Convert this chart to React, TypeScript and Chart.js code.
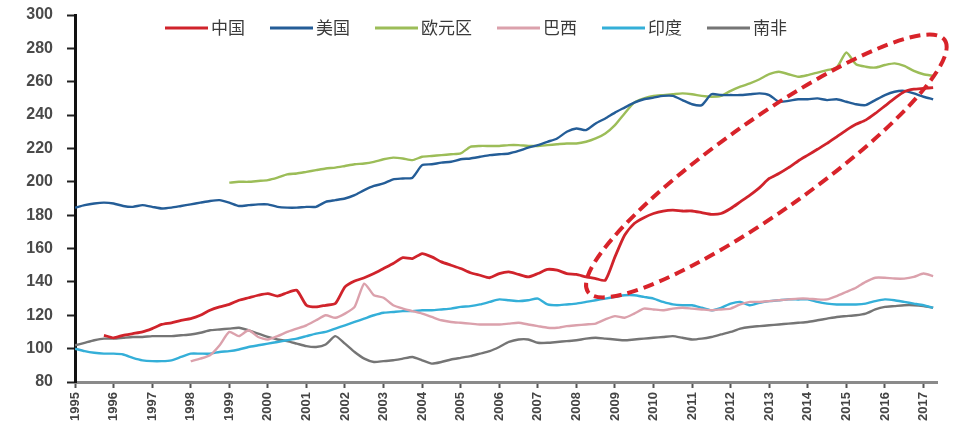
import React, { useEffect, useRef } from "react";
import { Chart, registerables } from "chart.js";

Chart.register(...registerables);

// ---- data (quarterly points, first point = 1995 Q1) ----
const startYear = 1995;
const pointsPerYear = 4;
const yearTicks = [1995, 1996, 1997, 1998, 1999, 2000, 2001, 2002, 2003, 2004, 2005, 2006, 2007, 2008, 2009, 2010, 2011, 2012, 2013, 2014, 2015, 2016, 2017];
const seriesNames = ["中国", "美国", "欧元区", "巴西", "印度", "南非"];

const china = [
  null, null, null, 108,
  106.5, 108, 109, 110,
  112, 114.5, 115.5, 117,
  118, 120, 123, 125,
  126.5, 129, 130.5, 132,
  133, 131.5, 133.5, 135,
  126, 125, 126, 127,
  137, 140.5, 142.5, 145,
  148, 151, 154.5, 154,
  157, 155, 152, 150,
  148, 145.5, 144, 142.5,
  145, 146, 144.5, 143,
  145, 147.5, 147, 145,
  144.5, 143, 142, 141,
  155, 168, 175, 178.5,
  181, 182.5, 183, 182.5,
  182.5, 181.5, 180.5, 181,
  184, 188, 192, 196.5,
  202, 205, 208.5, 212.5,
  216, 219.5, 223, 227,
  231, 234.5, 237, 241,
  245.5, 250, 254, 255.5,
  256, 256.5,
];

const usa = [
  184.5, 186, 187, 187.5,
  187, 185.5, 185, 186,
  185, 184, 184.5, 185.5,
  186.5, 187.5, 188.5, 189,
  187.5, 185.5, 186, 186.5,
  186.5, 185, 184.5, 184.5,
  185, 185, 188, 189,
  190, 192, 195, 197.5,
  199, 201.5, 202, 202.5,
  210, 210.5, 211.5, 212,
  213.5, 214, 215, 216,
  216.5, 217, 218.5, 220.5,
  222, 224, 226, 230,
  232, 231, 235, 238,
  241.5, 244.5, 247.5, 249.5,
  250.5, 251.5, 251.5, 249,
  246.5, 246, 252.5, 252,
  252, 252, 252.5, 253,
  252, 248, 248.5, 249.5,
  249.5, 250, 249, 249.5,
  248, 246.5, 246, 249,
  252, 254, 254.5, 253,
  251, 249.5,
];

const eurozone = [
  null, null, null, null,
  null, null, null, null,
  null, null, null, null,
  null, null, null, null,
  199.5, 200, 200, 200.5,
  201, 202.5, 204.5, 205,
  206, 207, 208, 208.5,
  209.5, 210.5, 211, 212,
  213.5, 214.5, 214, 213,
  215, 215.5, 216, 216.5,
  217, 221, 221.5, 221.5,
  221.5, 222, 222, 221.5,
  221.5, 222, 222.5, 223,
  223, 224, 226, 229,
  234, 241, 247.5, 250,
  251.5, 252, 252.5, 253,
  252.5, 251.5, 251, 251.5,
  254.5, 257, 259, 261.5,
  264.5, 266, 264.5, 263,
  264, 265.5, 267, 268.5,
  277.5, 270.5, 269, 268.5,
  270, 271, 269.5, 266.5,
  264.5, 263.5,
];

const brazil = [
  null, null, null, null,
  null, null, null, null,
  null, null, null, null,
  92.5, 94, 96, 102,
  110, 107.5, 111, 107,
  105.5, 107.5, 110, 112,
  114, 117, 120, 118.5,
  121, 125, 139, 132,
  130.5, 126, 124, 122.5,
  121, 119, 117, 116,
  115.5, 115, 114.5, 114.5,
  114.5, 115, 115.5, 114.5,
  113.5, 112.5, 112.5, 113.5,
  114, 114.5, 115, 117.5,
  119.5, 118.5, 121, 124,
  123.5, 123, 124, 124.5,
  124, 123.5, 123, 123.5,
  124, 126.5, 128, 128,
  128.5, 129, 129.5, 130,
  130, 129.5, 129.5, 131.5,
  134, 136.5, 140, 142.5,
  142.5, 142, 142, 143,
  145, 143.5,
];

const india = [
  100, 98.5, 97.5, 97,
  97, 96.5, 94.5, 93,
  92.5, 92.5, 93, 95,
  97, 97, 97, 98,
  98.5, 99.5, 101, 102,
  103, 104, 105, 106,
  107.5, 109, 110, 112,
  114, 116, 118, 120,
  121.5, 122, 122.5, 122.5,
  123, 123, 123.5, 124,
  125, 125.5, 126.5, 128,
  129.5, 129, 128.5, 129,
  130, 126.5, 126, 126.5,
  127, 128, 129, 130,
  131, 132, 132, 131,
  130, 128, 126.5, 126,
  126, 124.5, 123, 124.5,
  127, 128, 126, 127.5,
  128.5, 129, 129.5, 129.5,
  129.5, 128, 127, 126.5,
  126.5, 126.5, 127, 128.5,
  129.5, 129, 128, 127,
  126, 124.5,
];

const southAfrica = [
  102, 103.5, 105, 106,
  106, 106.5, 107, 107,
  107.5, 107.5, 107.5, 108,
  108.5, 109.5, 111, 111.5,
  112, 112.5, 111, 109,
  107, 105.5, 104.5, 103,
  101.5, 101, 102.5, 107.5,
  103, 98, 94, 92,
  92.5, 93, 94, 95,
  93, 91, 92, 93.5,
  94.5, 95.5, 97, 98.5,
  101, 104, 105.5, 105.5,
  103.5, 103.5, 104, 104.5,
  105, 106, 106.5, 106,
  105.5, 105, 105.5, 106,
  106.5, 107, 107.5, 106.5,
  105.5, 106, 107, 108.5,
  110, 112, 113, 113.5,
  114, 114.5, 115, 115.5,
  116, 117, 118, 119,
  119.5, 120, 121, 123.5,
  125, 125.5, 126, 126,
  125.5, 124.5,
];

// highlighted region (dashed ellipse) given by its two ends in data units
const highlightFrom = [2008.3, 134];
const highlightTo = [2017.55, 285];

const colors = ["#d0232b", "#245d97", "#9cbd58", "#dba1ac", "#34afd8", "#757575"];
const allSeries = [china, usa, eurozone, brazil, india, southAfrica];

const toPoints = (vals: (number | null)[]) =>
  vals.map((v, i) => ({ x: startYear + i / pointsPerYear, y: v }));

const ellipsePlugin = {
  id: "ellipseHighlight",
  afterDatasetsDraw(chart: any) {
    const xs = chart.scales.x;
    const ys = chart.scales.y;
    const x1 = xs.getPixelForValue(highlightFrom[0]);
    const y1 = ys.getPixelForValue(highlightFrom[1]);
    const x2 = xs.getPixelForValue(highlightTo[0]);
    const y2 = ys.getPixelForValue(highlightTo[1]);
    const cx = (x1 + x2) / 2;
    const cy = (y1 + y2) / 2;
    const a = Math.hypot(x2 - x1, y2 - y1) / 2;
    const ang = Math.atan2(y2 - y1, x2 - x1);
    const ctx = chart.ctx;
    ctx.save();
    ctx.beginPath();
    ctx.ellipse(cx, cy, a, 46, ang, 0, Math.PI * 2);
    ctx.setLineDash([11, 6]);
    ctx.lineWidth = 4;
    ctx.strokeStyle = "#d8232a";
    ctx.stroke();
    ctx.restore();
  },
};

const legendPlugin = {
  id: "topLegend",
  afterDraw(chart: any) {
    const ctx = chart.ctx;
    ctx.save();
    ctx.font = '17px "Noto Sans CJK SC"';
    ctx.textBaseline = "middle";
    let x = 165;
    const y = 28;
    chart.data.datasets.forEach((ds: any) => {
      ctx.strokeStyle = ds.borderColor;
      ctx.lineWidth = 3;
      ctx.setLineDash([]);
      ctx.beginPath();
      ctx.moveTo(x, y);
      ctx.lineTo(x + 43, y);
      ctx.stroke();
      ctx.fillStyle = "#3a3a3a";
      ctx.textAlign = "left";
      ctx.fillText(ds.label, x + 46, y);
      const w = ctx.measureText(ds.label).width;
      x += 46 + w + 25;
    });
    ctx.restore();
  },
};

export default function App() {
  const ref = useRef<HTMLCanvasElement>(null);
  useEffect(() => {
    document.body.style.margin = "0";
    const chart = new Chart(ref.current!, {
      type: "line",
      data: {
        datasets: allSeries.map((s, i) => ({
          label: seriesNames[i],
          data: toPoints(s),
          borderColor: colors[i],
          backgroundColor: colors[i],
          borderWidth: i === 0 ? 2.8 : 2.4,
          pointRadius: 0,
          tension: 0.2,
          spanGaps: false,
        })),
      },
      options: {
        animation: false,
        responsive: false,
        layout: { padding: { top: 15, right: 26, left: 0, bottom: 0 } },
        plugins: { legend: { display: false }, tooltip: { enabled: false } },
        scales: {
          x: {
            type: "linear",
            min: 1995,
            max: 2017.35,
            afterBuildTicks: (scale: any) => {
              scale.ticks = yearTicks.map((v) => ({ value: v }));
            },
            afterFit: (scale: any) => {
              scale.height = 48;
            },
            ticks: {
              minRotation: 90,
              maxRotation: 90,
              autoSkip: false,
              padding: 4,
              color: "#444",
              font: { family: "Liberation Sans", size: 13, weight: "bold" },
              callback: (v: any) => String(v),
            },
            grid: { drawOnChartArea: false, tickLength: 6, tickColor: "#555", tickWidth: 2 },
            border: { color: "#8a8a8a", width: 3 },
          },
          y: {
            min: 80,
            max: 300,
            afterFit: (scale: any) => {
              scale.width = 75;
              scale.paddingTop = 0;
              scale.paddingBottom = 0;
            },
            ticks: {
              stepSize: 20,
              padding: 14,
              color: "#4a4a4a",
              font: { family: "Liberation Sans", size: 16, weight: "bold" },
            },
            grid: { drawOnChartArea: false, tickLength: 8, tickColor: "#222", tickWidth: 2 },
            border: { color: "#111", width: 3 },
          },
        },
      },
      plugins: [ellipsePlugin, legendPlugin],
    });
    return () => chart.destroy();
  }, []);
  return (
    <div style={{ width: 963, height: 430, background: "#fff" }}>
      <canvas ref={ref} width={963} height={430} />
    </div>
  );
}
